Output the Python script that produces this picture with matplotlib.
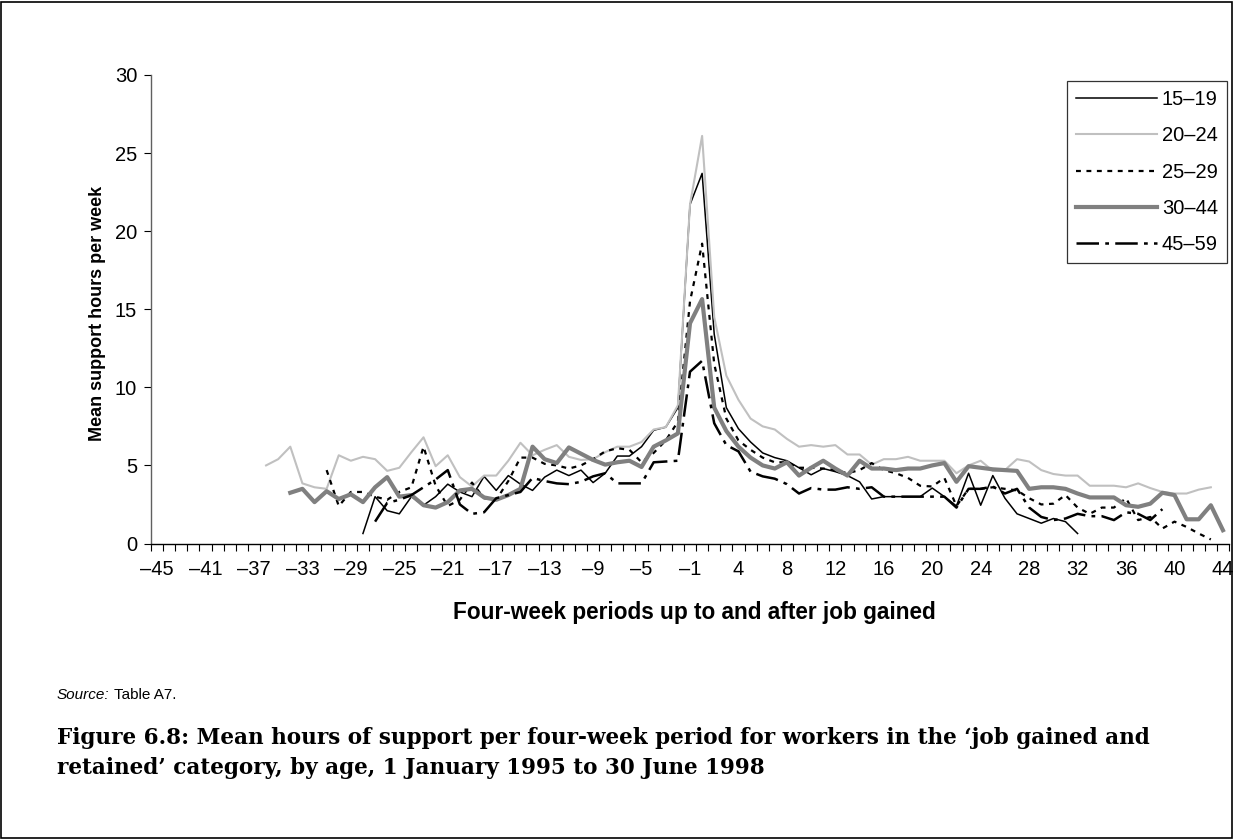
import numpy as np
import matplotlib
matplotlib.use("Agg")
import matplotlib.pyplot as plt
from matplotlib.patches import Rectangle

N = None
# categories: four-week periods -45..-1, 1..44
periods = list(range(-45, 0)) + list(range(1, 45))

def pad(start, vals, total=89):
    arr = [N] * total
    for k, v in enumerate(vals):
        arr[start + k] = v
    return arr

# values (start index in periods list, then values)
s15_19_start = 17
s15_19 = [0.64, 3.0, 2.1, 1.9, 3.0, 2.45, 3.0, 3.8, 3.3, 3.0, 4.3, 3.4, 4.35, 3.8, 3.4, 4.25,
          4.7, 4.35, 4.7, 3.9, 4.5, 5.6, 5.6, 6.2, 7.25, 7.45, 8.7, 21.7, 23.7, 13.4, 8.7, 7.35,
          6.5, 5.8, 5.5, 5.3, 4.85, 4.4, 4.8, 4.6, 4.35, 3.95, 2.85, 3.0, 3.0, 3.0, 3.0, 3.55,
          3.0, 2.4, 4.5, 2.45, 4.35, 2.9, 1.9, 1.6, 1.3, 1.6, 1.4, 0.64]

s20_24_start = 9
s20_24 = [5.0, 5.4, 6.2, 3.85, 3.6, 3.5, 5.65, 5.3, 5.55, 5.4, 4.65, 4.85, 5.85, 6.8, 4.95,
          5.65, 4.25, 3.65, 4.35, 4.35, 5.3, 6.45, 5.65, 6.0, 6.3, 5.55, 5.35, 5.4, 5.85, 6.2,
          6.2, 6.5, 7.3, 7.45, 8.85, 21.7, 26.1, 14.5, 10.75, 9.2, 8.0, 7.5, 7.3, 6.7, 6.2, 6.3,
          6.2, 6.3, 5.7, 5.7, 5.05, 5.4, 5.4, 5.55, 5.3, 5.3, 5.3, 4.5, 5.0, 5.3, 4.65, 4.7,
          5.4, 5.25, 4.7, 4.45, 4.35, 4.35, 3.7, 3.7, 3.7, 3.6, 3.85, 3.55, 3.3, 3.2, 3.2,
          3.45, 3.6]

s25_29_start = 14
s25_29 = [4.7, 2.4, 3.3, 3.3, 3.0, 2.8, 3.3, 3.6, 6.2, 3.7, 2.4, 2.8, 3.9, 2.9, 2.8, 4.0,
          5.5, 5.5, 5.1, 5.0, 4.8, 5.0, 5.4, 5.9, 6.1, 6.0, 5.2, 5.8, 6.6, 7.8, 15.5, 19.2,
          11.5, 8.0, 6.6, 6.0, 5.5, 5.2, 5.2, 4.85, 4.85, 4.8, 4.7, 4.5, 4.7, 5.15, 4.7, 4.5,
          4.2, 3.7, 3.65, 4.2, 2.4, 3.5, 3.5, 3.6, 3.5, 3.4, 2.9, 2.5, 2.55, 3.1, 2.3, 1.9,
          2.3, 2.3, 2.9, 1.5, 1.7, 0.96, 1.4, 1.06, 0.64, 0.26]

s30_44_start = 11
s30_44 = [3.25, 3.5, 2.65, 3.35, 2.85, 3.15, 2.65, 3.6, 4.25, 3.0, 3.1, 2.45, 2.3, 2.65,
          3.4, 3.5, 2.95, 2.8, 3.1, 3.5, 6.2, 5.4, 5.15, 6.15, 5.75, 5.35, 5.05, 5.2, 5.3,
          4.9, 6.2, 6.6, 7.05, 14.1, 15.65, 8.7, 7.2, 6.2, 5.5, 5.0, 4.8, 5.2, 4.35, 4.85,
          5.3, 4.8, 4.35, 5.3, 4.8, 4.8, 4.7, 4.8, 4.8, 5.0, 5.15, 3.95, 4.95, 4.85, 4.75,
          4.7, 4.65, 3.5, 3.6, 3.6, 3.5, 3.2, 2.95, 2.95, 2.95, 2.45, 2.35, 2.55, 3.25, 3.1,
          1.55, 1.55, 2.45, 0.85]

s45_59_start = 18
s45_59 = [1.4, 2.6, 2.8, 3.1, 3.6, 4.1, 4.7, 2.5, 1.9, 2.0, 2.9, 3.1, 3.3, 4.2, 4.0, 3.85,
          3.8, 3.95, 4.3, 4.5, 3.85, 3.85, 3.85, 5.2, 5.25, 5.3, 11.0, 11.7, 7.7, 6.3, 5.9,
          4.6, 4.3, 4.15, 3.8, 3.2, 3.55, 3.45, 3.45, 3.6, 3.5, 3.6, 3.0, 3.0, 3.0, 3.0, 3.0,
          3.0, 2.3, 3.5, 3.5, 3.65, 3.2, 3.5, 2.3, 1.7, 1.5, 1.6, 1.9, 1.75, 1.75, 1.5, 2.0,
          1.9, 1.5, 2.2]

series_names = ["15\u201319", "20\u201324", "25\u201329", "30\u201344", "45\u201359"]

def lab(p):
    return str(p).replace("-", "\u2013")

plt.rcParams['font.family'] = ['Liberation Sans', 'DejaVu Sans']

W, H = 1234, 839
fig = plt.figure(figsize=(W / 100, H / 100), dpi=100)
ax = fig.add_axes([151 / W, 1 - 543.5 / H, (1229 - 151) / W, (543.5 - 75) / H])

x = np.arange(len(periods))
def arr(start, vals):
    return np.array([np.nan if v is None else v for v in pad(start, vals)], dtype=float)

ax.plot(x, arr(s15_19_start, s15_19), color='black', lw=1.1, label=series_names[0])
ax.plot(x, arr(s20_24_start, s20_24), color='#c0c0c0', lw=1.5, label=series_names[1])
ax.plot(x, arr(s25_29_start, s25_29), color='black', lw=1.6, linestyle=(0, (2.2, 2.5)), label=series_names[2])
ax.plot(x, arr(s30_44_start, s30_44), color='#808080', lw=3.0, label=series_names[3])
ax.plot(x, arr(s45_59_start, s45_59), color='black', lw=1.8, linestyle=(0, (9, 2.5, 1.5, 2.5)), label=series_names[4])

ax.set_xlim(-0.5, len(periods) - 0.5)
ax.set_ylim(0, 30)
ax.set_yticks(np.arange(0, 31, 5))
ax.set_xticks(x[::4])
ax.set_xticklabels([lab(p) for p in periods[::4]], fontsize=14.5)
ax.set_xticks(np.arange(-0.5, len(periods), 1), minor=True)
ax.tick_params(axis='x', which='major', length=0, pad=12)
ax.tick_params(axis='x', which='minor', length=5, width=0.8, direction='out')
ax.tick_params(axis='y', which='major', length=5, width=0.8, direction='out', labelsize=14.5, pad=5)
for s in ['top', 'right']:
    ax.spines[s].set_visible(False)
ax.spines['bottom'].set_linewidth(1.0)
ax.spines['left'].set_linewidth(1.0)
ax.spines['left'].set_color('#606060')

fig.text(694 / W, 1 - 613 / H, "Four-week periods up to and after job gained",
         fontsize=16.3, fontweight='bold', ha='center', va='center')
fig.text(97 / W, 1 - 313 / H, "Mean support hours per week", rotation=90,
         fontsize=13, fontweight='bold', ha='center', va='center')

leg = ax.legend(loc='upper right', bbox_to_anchor=((1227 - 151) / 1078, (543.5 - 81) / 468.5),
                borderaxespad=0, fontsize=14.5, frameon=True,
                fancybox=False, edgecolor='black', handlelength=4.0, handletextpad=0.25,
                labelspacing=0.86, borderpad=0.45)
leg.get_frame().set_linewidth(0.9)

t1 = fig.text(57 / W, 1 - 695 / H, "Source:", fontsize=11, style='italic', va='center', ha='left')
fig.canvas.draw()
bb = t1.get_window_extent(renderer=fig.canvas.get_renderer())
fig.text((bb.x1 + 4) / W, 1 - 695 / H, "Table A7.", fontsize=11, va='center', ha='left')

cap_kw = dict(fontsize=15.5, fontweight='bold', family=['DejaVu Serif'],
              va='center', ha='left')
fig.text(57 / W, 1 - 738 / H,
         "Figure 6.8: Mean hours of support per four-week period for workers in the \u2018job gained and",
         **cap_kw)
fig.text(57 / W, 1 - 768 / H,
         "retained\u2019 category, by age, 1 January 1995 to 30 June 1998", **cap_kw)

fig.patches.append(Rectangle((0.001, 0.001), 0.997, 0.997, transform=fig.transFigure,
                             fill=False, edgecolor='black', lw=1.2))

fig.savefig("out.png", dpi=100)
